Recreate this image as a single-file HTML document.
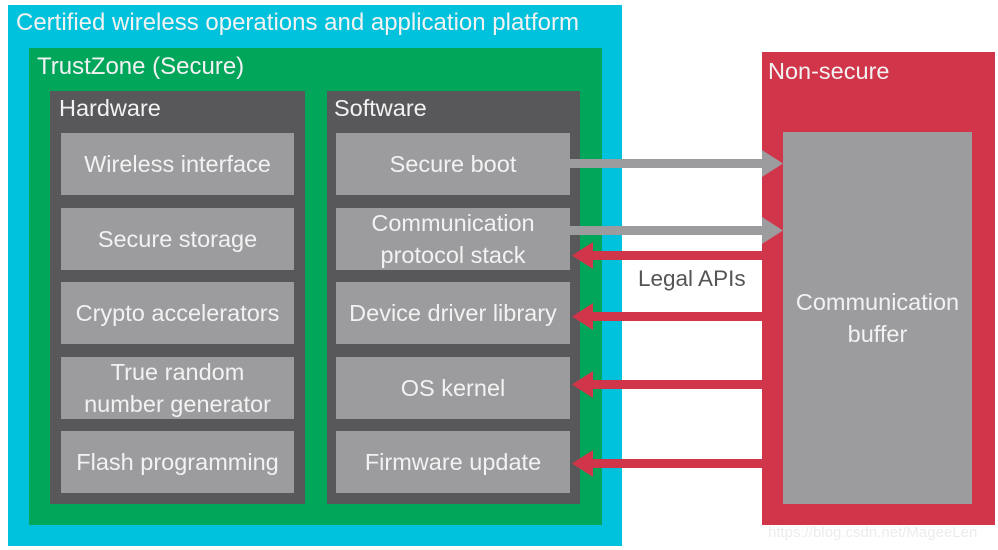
<!DOCTYPE html>
<html><head><style>
body{margin:0;width:998px;height:550px;background:#fff;position:relative;overflow:hidden;font-family:"Liberation Sans",sans-serif;}
div{position:absolute;box-sizing:border-box;}
.t{color:#f2f2f2;font-size:23.5px;white-space:nowrap;}
.it{background:#9c9c9f;color:#f2f2f2;font-size:23.5px;display:flex;align-items:center;justify-content:center;text-align:center;line-height:32px;white-space:nowrap;}
</style></head><body>
<div style="left:8px;top:5px;width:614px;height:541px;background:#00c2dc"></div>
<div class="t" style="left:16px;top:9px;font-size:24px">Certified wireless operations and application platform</div>
<div style="left:29px;top:48px;width:573px;height:477px;background:#00a65a"></div>
<div class="t" style="left:37px;top:53px;font-size:24px">TrustZone (Secure)</div>
<div style="left:50px;top:91px;width:255px;height:413px;background:#58585b"></div>
<div class="t" style="left:59px;top:95px">Hardware</div>
<div style="left:327px;top:91px;width:253px;height:413px;background:#58585b"></div>
<div class="t" style="left:334px;top:95px">Software</div>

<div class="it" style="left:61px;top:133px;width:233px;height:62px">Wireless interface</div>
<div class="it" style="left:61px;top:208px;width:233px;height:62px">Secure storage</div>
<div class="it" style="left:61px;top:282px;width:233px;height:62px">Crypto accelerators</div>
<div class="it" style="left:61px;top:357px;width:233px;height:62px">True random<br>number generator</div>
<div class="it" style="left:61px;top:431px;width:233px;height:62px">Flash programming</div>

<div class="it" style="left:336px;top:133px;width:234px;height:62px">Secure boot</div>
<div class="it" style="left:336px;top:208px;width:234px;height:62px">Communication<br>protocol stack</div>
<div class="it" style="left:336px;top:282px;width:234px;height:62px">Device driver library</div>
<div class="it" style="left:336px;top:357px;width:234px;height:62px">OS kernel</div>
<div class="it" style="left:336px;top:431px;width:234px;height:62px">Firmware update</div>

<div style="left:762px;top:52px;width:233px;height:473px;background:#d0354a"></div>
<div class="t" style="left:768px;top:58px">Non-secure</div>
<div class="it" style="left:783px;top:132px;width:189px;height:372px">Communication<br>buffer</div>

<div style="left:638px;top:266px;font-size:22.5px;color:#555">Legal APIs</div>

<svg width="998" height="550" style="position:absolute;left:0;top:0">
<g fill="#9c9c9f">
<rect x="570" y="159" width="195" height="9"/><polygon points="762,150 783,163.5 762,177"/>
<rect x="570" y="226" width="195" height="9"/><polygon points="762,217 783,230.5 762,244"/>
</g>
<g fill="#d0354a">
<rect x="590" y="251" width="175" height="9"/><polygon points="593,242 572,255.5 593,269"/>
<rect x="590" y="312" width="175" height="9"/><polygon points="593,303 572,316.5 593,330"/>
<rect x="590" y="380" width="175" height="9"/><polygon points="593,371 572,384.5 593,398"/>
<rect x="590" y="459" width="175" height="9"/><polygon points="593,450 572,463.5 593,477"/>
</g>
</svg>
<div style="left:768px;top:524px;font-size:15px;color:#ececec">https://blog.csdn.net/MageeLen</div>
</body></html>
